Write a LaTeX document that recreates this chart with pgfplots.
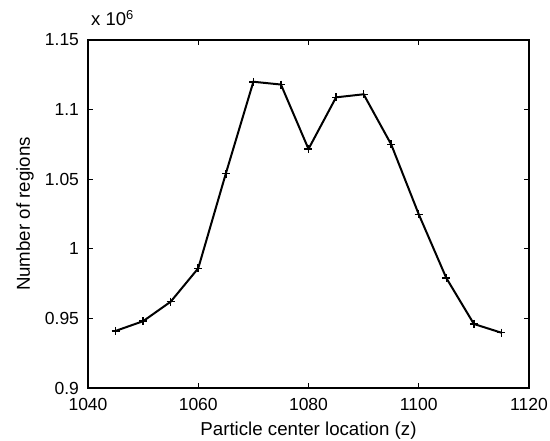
\documentclass[border=0pt]{standalone}
\usepackage{fontspec}
\setmainfont{Liberation Sans}
\usepackage{pgfplots}
\pgfplotsset{compat=1.18}
\begin{document}
\fontsize{17.5}{20}\selectfont
\begin{tikzpicture}
\path[use as bounding box] (-88pt,-53pt) rectangle (462pt,388pt);
\begin{axis}[
  scale only axis, width=441pt, height=348pt,
  at={(0,0)}, anchor=south west,
  xmin=1040, xmax=1120, ymin=0.9, ymax=1.15,
  xtick={1040,1060,1080,1100,1120},
  xticklabels={1040,1060,1080,1100,1120},
  ytick={0.9,0.95,1,1.05,1.1,1.15},
  yticklabels={0.9,0.95,1,1.05,1.1,1.15},
  tick align=inside, tick pos=both,
  major tick length=5pt,
  axis line style={line width=1.2pt},
  every tick/.style={black, line width=0.8pt},
  tick label style={font=\fontsize{17.5}{20}\selectfont},
  label style={font=\fontsize{18.7}{22}\selectfont},
  xticklabel style={yshift=-4pt},
  yticklabel style={xshift=-3pt},
  xlabel={Particle center location (z)},
  ylabel={Number of regions},
  xlabel style={at={([yshift=-43pt]axis description cs:0.5,0)}, anchor=center},
  ylabel style={at={([xshift=-63pt]axis description cs:0,0.5)}, anchor=center},
  scaled y ticks=false,
]
\addplot[black, line width=2pt, mark=+, mark size=4pt, mark options={line width=1.5pt}] coordinates {
 (1045,0.941) (1050,0.948) (1055,0.962) (1060,0.986) (1065,1.054)
 (1070,1.120) (1075,1.118) (1080,1.0717) (1085,1.1088) (1090,1.111)
 (1095,1.075) (1100,1.0248) (1105,0.979) (1110,0.946) (1115,0.9397)
};
\end{axis}
\node[anchor=base west, inner sep=0pt, font=\fontsize{18.5}{20}\selectfont] at (3pt,14pt+348pt) {x 10\textsuperscript{6}};
\end{tikzpicture}
\end{document}
